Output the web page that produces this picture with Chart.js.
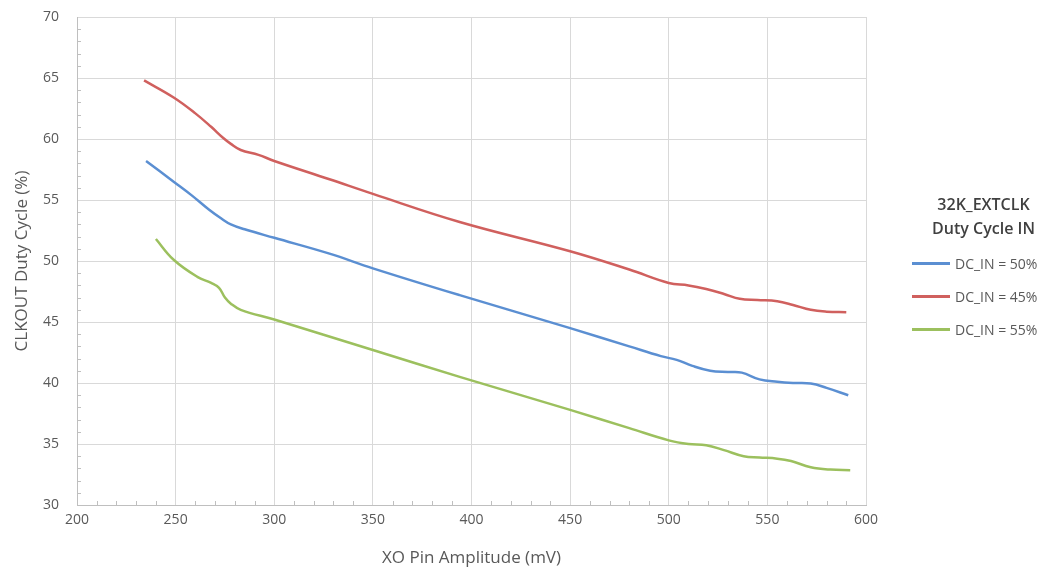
<!DOCTYPE html>
<html>
<head>
<meta charset="utf-8">
<script src="https://cdn.jsdelivr.net/npm/chart.js@4"></script>
<style>
  body { margin: 0; background: #fff; }
  #wrap { position: relative; width: 1052px; height: 573px; }
  #legend { position: absolute; left: 905px; top: 192px; width: 147px; font-family: "Open Sans", "Liberation Sans", sans-serif; }
  #legend .title { text-align: center; color: #404040; font-size: 16px; line-height: 24px; font-weight: 600; margin-left: 10px; }
  #legend .items { margin-top: 7px; }
  #legend .item { display: flex; align-items: center; height: 33px; color: #595959; font-size: 14px; }
  #legend .swatch { width: 38px; height: 3px; margin: 0 5px 0 7px; }
</style>
</head>
<body>
<div id="wrap">
  <canvas id="chart" width="1052" height="573"></canvas>
  <div id="legend"></div>
</div>
<script>
// legend / series names
const legendTitle = ['32K_EXTCLK', 'Duty Cycle IN'];
const seriesNames = ['DC_IN = 50%', 'DC_IN = 45%', 'DC_IN = 55%'];
const seriesColors = ['#5b8fd2', '#d0605e', '#9cc05e'];

// DC_IN = 50%
const xBlue = [235, 249, 258, 267, 273, 278, 285, 300, 328, 350, 394, 450, 480, 496, 504, 512, 521, 530, 537, 546, 555, 563, 572, 580, 591];
const yBlue = [58.2, 56.5, 55.4, 54.2, 53.5, 53.0, 52.6, 51.9, 50.6, 49.4, 47.2, 44.5, 43.0, 42.2, 41.9, 41.4, 41.0, 40.9, 40.85, 40.3, 40.1, 40.0, 39.95, 39.6, 39.0];

// DC_IN = 45%
const xRed = [234, 249, 260, 268, 274, 278, 283, 292, 300, 328, 350, 394, 450, 480, 500, 510, 519, 528, 536, 545, 555, 563, 572, 580, 590];
const yRed = [64.8, 63.4, 62.1, 61.0, 60.1, 59.6, 59.1, 58.7, 58.2, 56.7, 55.5, 53.2, 50.8, 49.3, 48.2, 48.0, 47.7, 47.3, 46.9, 46.8, 46.7, 46.4, 46.0, 45.85, 45.8];

// DC_IN = 55%
const xGreen = [240, 249, 261, 268, 272, 275, 278, 283, 300, 350, 394, 450, 480, 500, 510, 519, 528, 538, 546, 555, 562, 572, 582, 592];
const yGreen = [51.8, 50.1, 48.7, 48.2, 47.8, 47.0, 46.5, 46.0, 45.2, 42.7, 40.5, 37.8, 36.3, 35.3, 35.0, 34.9, 34.5, 34.0, 33.9, 33.8, 33.6, 33.1, 32.9, 32.85];

// axes
const xMin = 200, xMax = 600, xStep = 50, xMinorStep = 10;
const yMin = 30, yMax = 70, yStep = 5, yMinorStep = 1;

function toPoints(xs, ys) {
  return xs.map((x, i) => ({ x: x, y: ys[i] }));
}

const seriesData = [toPoints(xBlue, yBlue), toPoints(xRed, yRed), toPoints(xGreen, yGreen)];

const fontFamily = '"Open Sans", "Liberation Sans", sans-serif';

// small inside ticks like the excel chart
const minorTicks = {
  id: 'minorTicks',
  afterDraw(chart) {
    const ctx = chart.ctx;
    const xs = chart.scales.x, ys = chart.scales.y;
    ctx.save();
    ctx.strokeStyle = '#bfbfbf';
    ctx.lineWidth = 1;
    ctx.beginPath();
    for (let v = yMin; v <= yMax; v += yMinorStep) {
      if (v % yStep === 0) continue;
      const py = Math.round(ys.getPixelForValue(v)) + 0.5;
      ctx.moveTo(xs.left, py);
      ctx.lineTo(xs.left + 4, py);
    }
    for (let v = xMin; v <= xMax; v += xMinorStep) {
      if (v % xStep === 0) continue;
      const px = Math.round(xs.getPixelForValue(v)) + 0.5;
      ctx.moveTo(px, ys.bottom);
      ctx.lineTo(px, ys.bottom - 4);
    }
    ctx.stroke();
    ctx.restore();
  }
};

const ctx = document.getElementById('chart').getContext('2d');
const chart = new Chart(ctx, {
  type: 'line',
  data: {
    datasets: seriesData.map((pts, i) => ({
      label: seriesNames[i],
      data: pts,
      borderColor: seriesColors[i],
      backgroundColor: seriesColors[i],
      borderWidth: 2.5,
      pointRadius: 0,
      tension: 0.4,
      fill: false
    }))
  },
  options: {
    responsive: false,
    animation: false,
    layout: { padding: { left: 0, right: 186, top: 17, bottom: 0 } },
    plugins: {
      legend: { display: false },
      tooltip: { enabled: false }
    },
    scales: {
      x: {
        type: 'linear',
        min: xMin,
        max: xMax,
        afterFit(scale) { scale.height = 68; },
        ticks: { stepSize: xStep, color: '#595959', font: { family: fontFamily, size: 14 }, padding: 7 },
        grid: { color: '#d9d9d9', lineWidth: 1, drawTicks: false },
        border: { color: '#bfbfbf' },
        title: { display: true, text: 'XO Pin Amplitude (mV)', color: '#595959', font: { family: fontFamily, size: 17 }, padding: { top: 2, bottom: 5 } }
      },
      y: {
        min: yMin,
        max: yMax,
        afterFit(scale) {
          scale.width = 77;
          scale.paddingTop = 0;
          scale.paddingBottom = 0;
        },
        ticks: { stepSize: yStep, color: '#595959', font: { family: fontFamily, size: 14 }, padding: 18 },
        grid: { color: '#d9d9d9', lineWidth: 1, drawTicks: false },
        border: { color: '#bfbfbf' },
        title: { display: true, text: 'CLKOUT Duty Cycle (%)', color: '#595959', font: { family: fontFamily, size: 17 }, padding: { bottom: 0, top: 12 } }
      }
    }
  },
  plugins: [minorTicks]
});

// html legend built from the series
const legendEl = document.getElementById('legend');
legendTitle.forEach(t => {
  const d = document.createElement('div');
  d.className = 'title';
  d.textContent = t;
  legendEl.appendChild(d);
});
const itemsEl = document.createElement('div');
itemsEl.className = 'items';
legendEl.appendChild(itemsEl);
seriesNames.forEach((name, i) => {
  const item = document.createElement('div');
  item.className = 'item';
  const sw = document.createElement('span');
  sw.className = 'swatch';
  sw.style.background = seriesColors[i];
  const label = document.createElement('span');
  label.textContent = name;
  item.appendChild(sw);
  item.appendChild(label);
  itemsEl.appendChild(item);
});
</script>
</body>
</html>
